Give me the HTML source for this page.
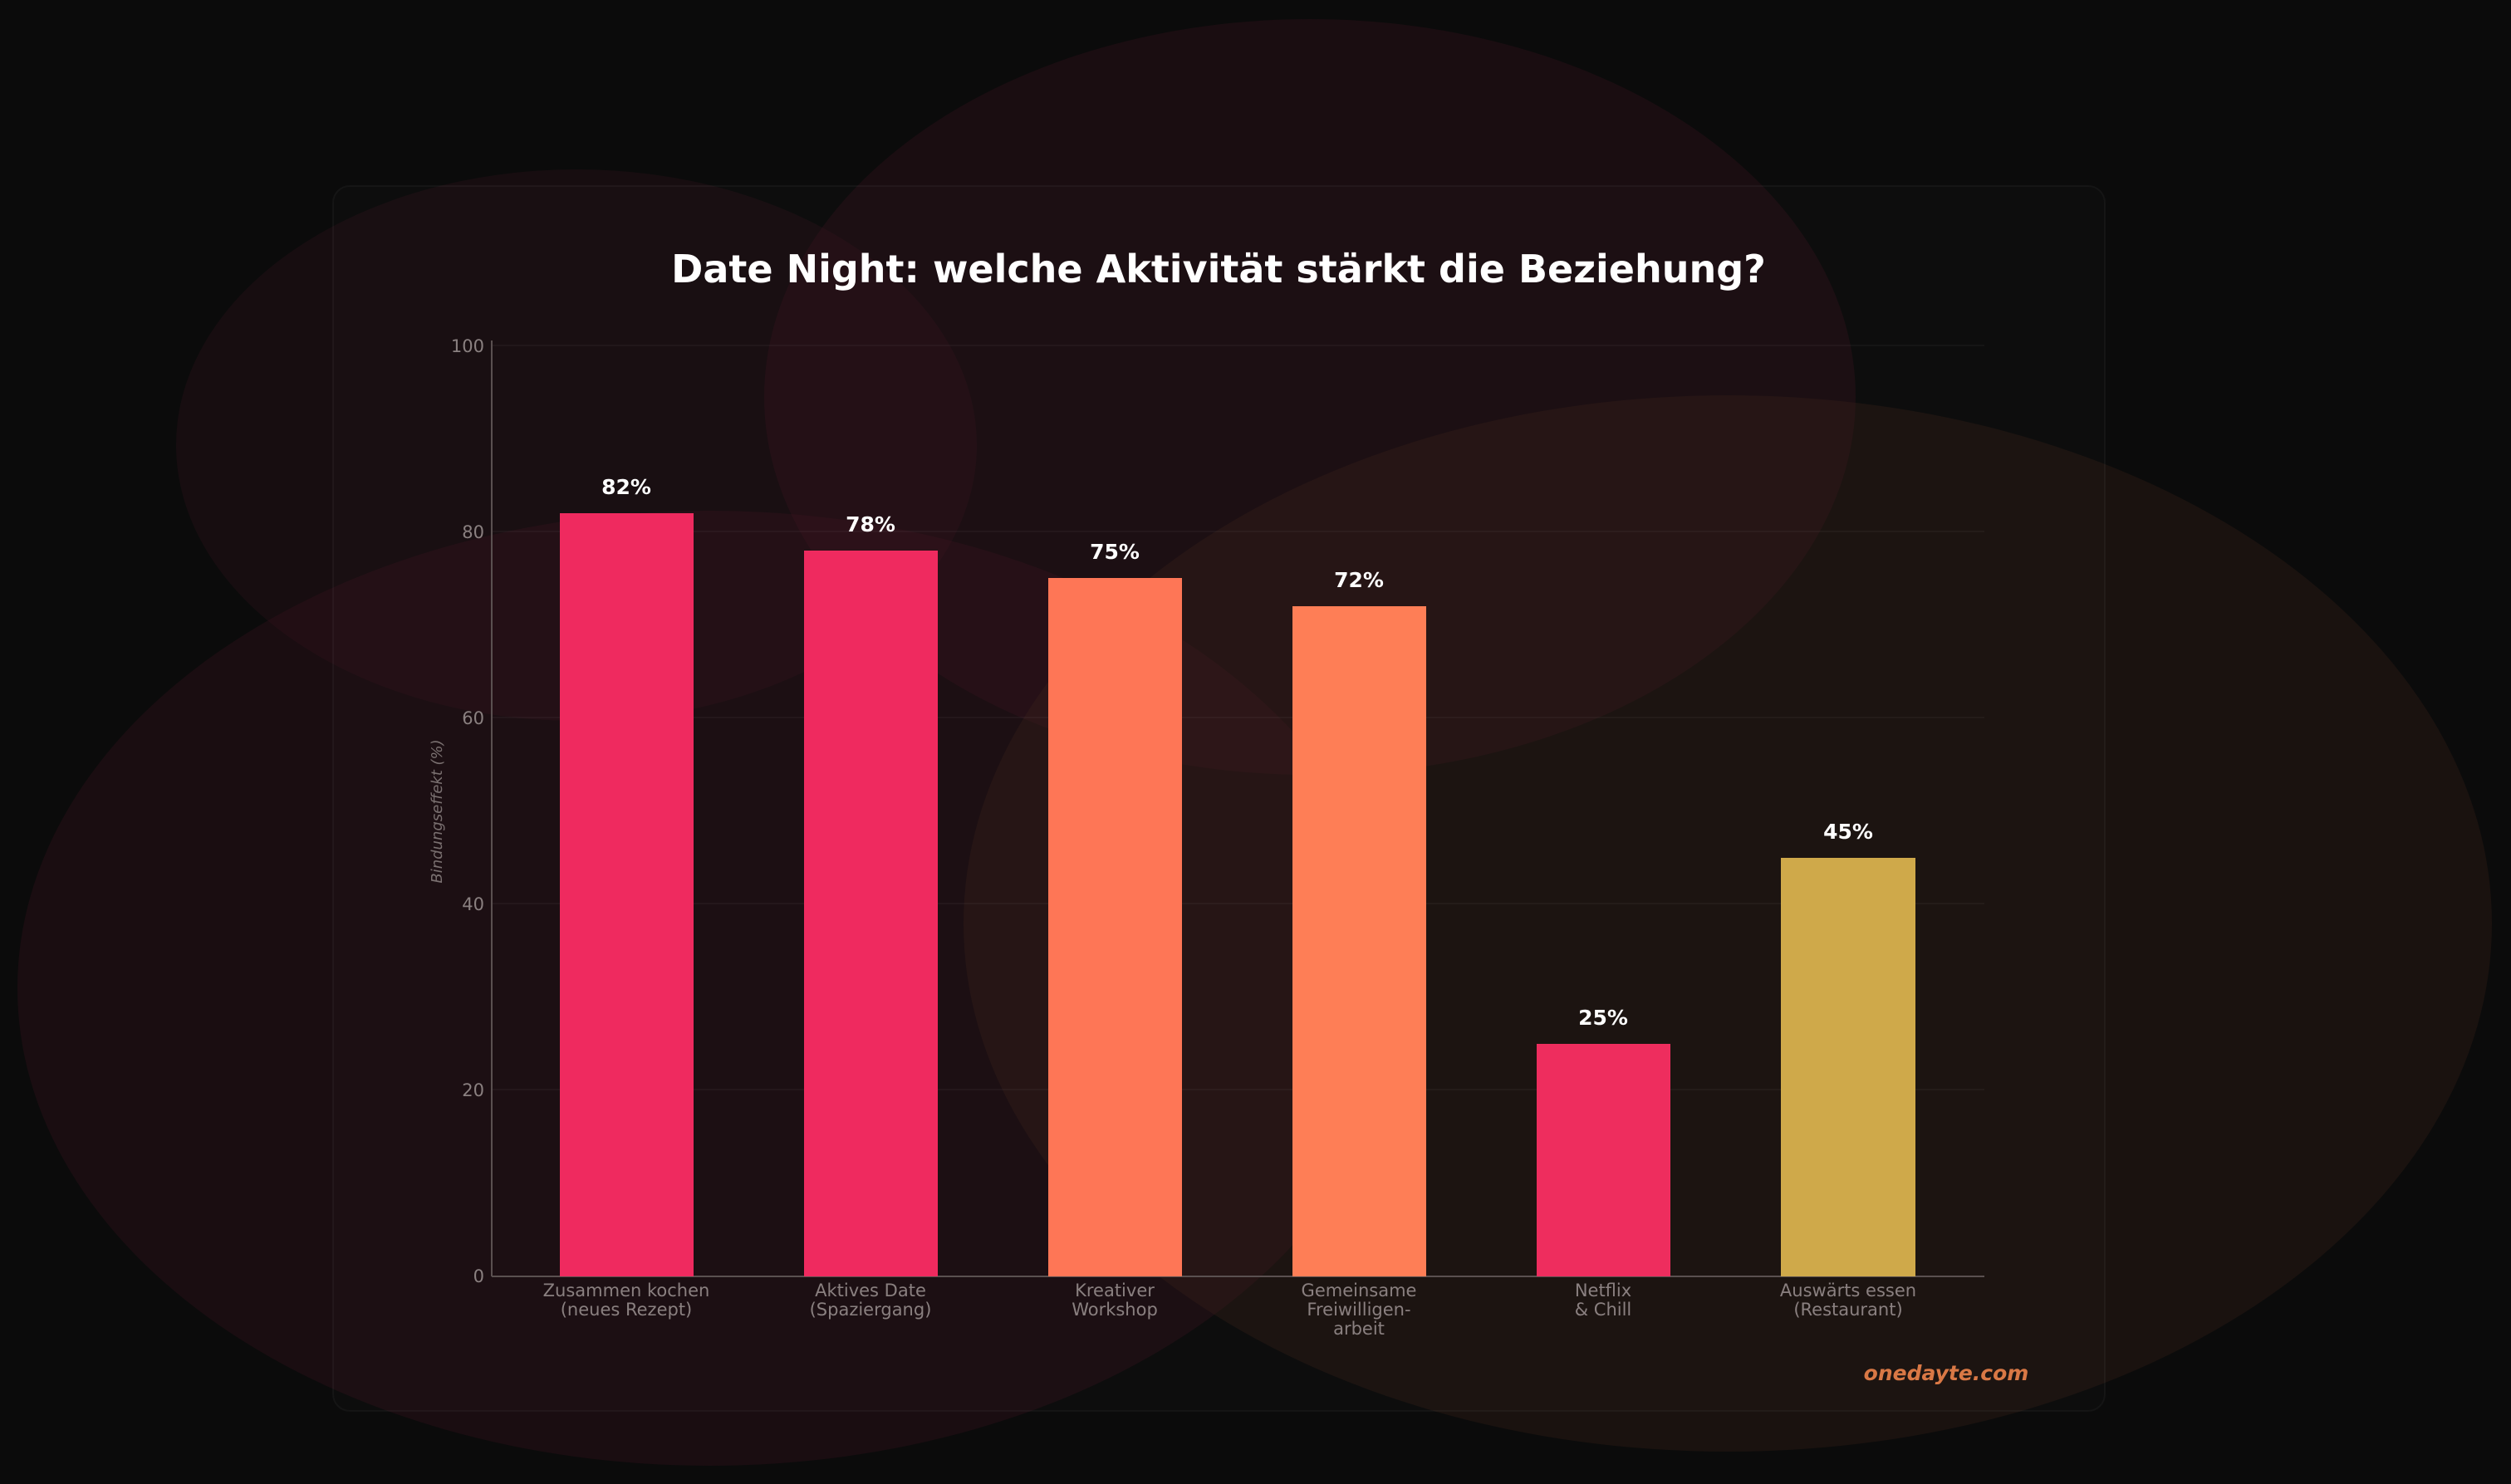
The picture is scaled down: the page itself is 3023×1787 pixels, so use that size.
<!DOCTYPE html>
<html><head><meta charset="utf-8"><style>
html,body{margin:0;padding:0;background:#0b0b0b;}
svg{display:block;}
</style></head><body>
<svg width="3023" height="1787" viewBox="0 0 3023 1787" xmlns="http://www.w3.org/2000/svg" font-family="'DejaVu Sans','Liberation Sans',sans-serif">
<rect width="3023" height="1787" fill="#0b0b0b"/>
<ellipse cx="694" cy="536" rx="482" ry="332" fill="#3a1420" opacity="0.28"/>
<ellipse cx="1577" cy="478" rx="657" ry="455" fill="#3a1420" opacity="0.32"/>
<ellipse cx="854" cy="1190" rx="833" ry="575" fill="#3a1420" opacity="0.32"/>
<ellipse cx="2080" cy="1112" rx="920" ry="636" fill="#3a2218" opacity="0.32"/>
<rect x="401" y="224" width="2133" height="1475" rx="20" fill="#ffffff" fill-opacity="0.01" stroke="#ffffff" stroke-opacity="0.04" stroke-width="2"/>
<text x="1467" y="340" text-anchor="middle" font-size="46" font-weight="bold" fill="#ffffff">Date Night: welche Aktivität stärkt die Beziehung?</text>
<g stroke="#ffffff" stroke-opacity="0.035" stroke-width="2">
<line x1="592" y1="416" x2="2389" y2="416"/>
<line x1="592" y1="640" x2="2389" y2="640"/>
<line x1="592" y1="864" x2="2389" y2="864"/>
<line x1="592" y1="1088" x2="2389" y2="1088"/>
<line x1="592" y1="1312" x2="2389" y2="1312"/>
</g>
<line x1="592" y1="410" x2="592" y2="1537" stroke="#5a5050" stroke-width="2"/>
<line x1="592" y1="1537" x2="2389" y2="1537" stroke="#5a5050" stroke-width="2"/>
<g font-size="21" fill="#8a8080" text-anchor="end">
<text x="583" y="424">100</text><text x="583" y="648">80</text><text x="583" y="872">60</text>
<text x="583" y="1096">40</text><text x="583" y="1320">20</text><text x="583" y="1544">0</text>
</g>
<text transform="translate(532,977) rotate(-90)" text-anchor="middle" font-size="18" font-style="italic" fill="#7a7070">Bindungseffekt (%)</text>
<rect x="674" y="618" width="161" height="919" fill="#ef2a5f"/>
<rect x="968" y="663" width="161" height="874" fill="#ef2a5f"/>
<rect x="1262" y="696" width="161" height="841" fill="#fe7656"/>
<rect x="1556" y="730" width="161" height="807" fill="#fe7e56"/>
<rect x="1850" y="1257" width="161" height="280" fill="#ee2d5e"/>
<rect x="2144" y="1033" width="162" height="504" fill="#cfa94a"/>
<g font-size="25" font-weight="bold" fill="#ffffff" text-anchor="middle">
<text x="754" y="595">82%</text><text x="1048" y="640">78%</text><text x="1342" y="673">75%</text>
<text x="1636" y="707">72%</text><text x="1930" y="1234">25%</text><text x="2225" y="1010">45%</text>
</g>
<g font-size="21" fill="#8a8080" text-anchor="middle">
<text x="754" y="1561">Zusammen kochen</text><text x="754" y="1584">(neues Rezept)</text>
<text x="1048" y="1561">Aktives Date</text><text x="1048" y="1584">(Spaziergang)</text>
<text x="1342" y="1561">Kreativer</text><text x="1342" y="1584">Workshop</text>
<text x="1636" y="1561">Gemeinsame</text><text x="1636" y="1584">Freiwilligen-</text><text x="1636" y="1607">arbeit</text>
<text x="1930" y="1561">Netflix</text><text x="1930" y="1584">&amp; Chill</text>
<text x="2225" y="1561">Auswärts essen</text><text x="2225" y="1584">(Restaurant)</text>
</g>
<text x="2343" y="1662" text-anchor="middle" font-size="25" font-weight="bold" font-style="italic" fill="#d97845">onedayte.com</text>
</svg>
</body></html>
